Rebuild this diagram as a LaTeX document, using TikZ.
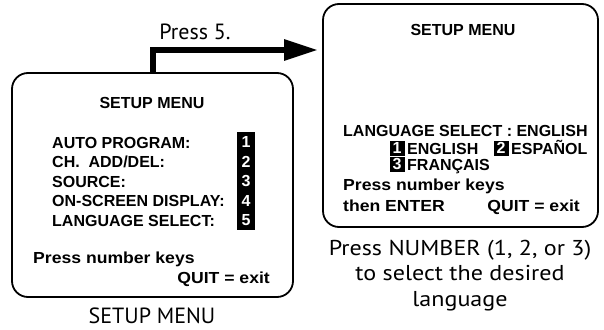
\documentclass[tikz,border=0pt]{standalone}
\usepackage{fontspec}
\usepackage{tikz}
\usetikzlibrary{arrows.meta}
\usetikzlibrary{positioning}
\newfontfamily\screenfont{Liberation Sans}
\newfontfamily\screenwidefont[FakeStretch=1.1]{Liberation Sans}
\newfontfamily\capfont{PT Sans}
\newfontfamily\capwidefont[FakeStretch=1.12]{PT Sans}

\begin{document}
\begin{tikzpicture}[x=1pt, y=-1pt, inner sep=0pt,
        screen_style/.style={draw=black, line width=1.8pt, rounded corners=16pt},
        menu_text/.style={anchor=base west, font=\screenfont\bfseries\fontsize{16}{18}\selectfont},
        wide_text/.style={anchor=base west, font=\screenwidefont\bfseries\fontsize{16}{18}\selectfont},
        title_text/.style={anchor=base, font=\screenfont\bfseries\fontsize{16}{18}\selectfont},
        key_style/.style={fill=black, text=white, font=\screenfont\bfseries\fontsize{16}{18}\selectfont},
        caption_style/.style={anchor=base, font=\capfont\fontsize{22}{23}\selectfont},
        wide_caption_style/.style={anchor=base, align=center, font=\capwidefont\fontsize{21.5}{25.5}\selectfont},
        arrow_style/.style={draw=black, line width=6pt, -{Triangle[length=34pt,width=20pt]}}]
        \useasboundingbox (0,0) rectangle (604,329);

        % screens
        \node [screen_style, minimum width=281, minimum height=224] (left_screen) at (152.5,185) {};
        \node [screen_style, minimum width=275, minimum height=223] (right_screen) at (460.5,115.5) {};

        % left screen
        \node [title_text] (l_title) at (152,108) {SETUP MENU};
        \node [menu_text] (l1) at (52,148) {AUTO PROGRAM:};
        \node [menu_text] (l2) at (52,167.5) {CH.\ \ ADD/DEL:};
        \node [menu_text] (l3) at (52,187) {SOURCE:};
        \node [menu_text] (l4) at (52,206.5) {ON-SCREEN DISPLAY:};
        \node [menu_text] (l5) at (52,226) {LANGUAGE SELECT:};
        \node [key_style, minimum width=18, minimum height=19.6] (k1) at (246,142.25) {1};
        \node [key_style, minimum width=18, minimum height=19.6] (k2) at (246,161.75) {2};
        \node [key_style, minimum width=18, minimum height=19.6] (k3) at (246,181.25) {3};
        \node [key_style, minimum width=18, minimum height=19.6] (k4) at (246,200.75) {4};
        \node [key_style, minimum width=18, minimum height=19.6] (k5) at (246,220.25) {5};
        \node [wide_text] (l_press) at (33,263) {Press number keys};
        \node [wide_text, anchor=base east] (l_quit) at (270,283) {QUIT = exit};

        % right screen
        \node [title_text] (r_title) at (463,36) {SETUP MENU};
        \node [menu_text] (r_lang) at (343,136) {LANGUAGE SELECT : ENGLISH};
        \node [key_style, minimum width=15, minimum height=15] (rk1) at (397,148.25) {1};
        \node [menu_text] (r_en) at (407,154) {ENGLISH};
        \node [key_style, minimum width=15, minimum height=15] (rk2) at (501,148.25) {2};
        \node [menu_text] (r_es) at (511,154) {ESPAÑOL};
        \node [key_style, minimum width=15, minimum height=15] (rk3) at (397,164.25) {3};
        \node [menu_text] (r_fr) at (407,170) {FRANÇAIS};
        \node [wide_text] (r_press) at (343,190) {Press number keys};
        \node [wide_text] (r_enter) at (343,211) {then ENTER};
        \node [wide_text, anchor=base east] (r_quit) at (580,211) {QUIT = exit};

        % captions
        \node [caption_style] (press5) at (195,40) {Press 5.};
        \node [caption_style] (l_caption) at (152,323) {SETUP MENU};
        \node [wide_caption_style] (r_caption) at (460,306) {Press NUMBER (1, 2, or 3)\\to select the desired\\language};

        % arrow
        \coordinate (arrow_end) at (318,50);
        \draw [arrow_style] (left_screen.north) |- (arrow_end);
        \end{tikzpicture}
\end{document}
